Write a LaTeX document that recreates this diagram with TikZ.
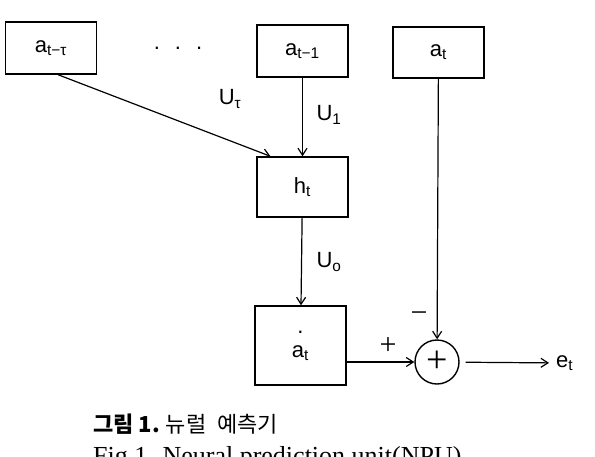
\documentclass[tikz,border=0pt]{standalone}
\usepackage{fontspec}
\usepackage{tikz}
\usetikzlibrary{arrows.meta,positioning,calc}
\setmainfont{Liberation Serif}
\setsansfont{Liberation Sans}
\newfontfamily\cjk{Noto Sans CJK KR}
\newcommand{\ind}[2]{#1\textsubscript{#2}}
\tikzset{
  bloc/.style={rectangle, draw, line width=1.4pt, minimum width=91pt,
               minimum height=#1, inner sep=0pt, font=\sffamily\fontsize{22}{24}\selectfont},
  fleche/.style={-{Straight Barb[length=7pt,width=9pt]}, line width=1.2pt},
  etiq/.style={font=\sffamily\fontsize{22}{24}\selectfont, inner sep=1pt},
}
\begin{document}
\begin{tikzpicture}[x=1pt, y=-1pt]
  \useasboundingbox (0,0) rectangle (595,456);
  % entrees
  \node[bloc=52pt] (aT) at (51,48) {\ind{a}{t−τ}};
  \node[etiq, anchor=base] (pts) at (178,49) {.\hspace{15pt}.\hspace{15pt}.};
  \node[bloc=52pt] (a1) at (302.5,51) {\ind{a}{t−1}};
  \node[bloc=51pt] (at) at (438.5,52.5) {\ind{a}{t}};
  % couche cachee et sortie
  \node[bloc=60pt] (h) at (302.5,187) {\ind{h}{t}};
  \node[bloc=79pt, align=center] (ah) at (300.5,345.5) {.\\[0pt]\ind{a}{t}};
  \node[circle, draw, line width=1.4pt, minimum size=44pt, inner sep=0pt,
        font=\fontsize{38}{38}\selectfont] (som) at (437,362) {+};
  \node[etiq, anchor=west] (e) at (555,363) {\ind{e}{t}};
  \draw[fleche] ([xshift=7pt]aT.south) -- ([xshift=-32pt]h.north);
  \draw[fleche] (a1) -- (h);
  \draw[fleche] (h) -- (ah);
  \draw[fleche] (at) -- (som);
  \draw[fleche] (ah.east |- som) -- (som.west);
  \draw[fleche, shorten <=6pt, shorten >=6pt] (som) -- (e);
  % poids et signes
  \node[etiq] (uT) at (230,99) {\ind{U}{τ}};
  \node[etiq] (u1) at (329,115) {\ind{U}{1}};
  \node[etiq] (uo) at (329,262) {\ind{U}{o}};
  \node[etiq, font=\fontsize{30}{30}\selectfont] (plus) at (388,346) {+};
  \node[etiq, font=\fontsize{30}{30}\selectfont] (moins) at (419,317) {−};
  % legende
  \node[anchor=west, inner sep=0pt, font=\fontsize{22}{24}\selectfont] (leg) at (93,424)
    {\cjk\bfseries 그림 1.\hspace{6pt}\mdseries 뉴럴\hspace{6pt} 예측기};
  \node[anchor=north west, inner sep=0pt, font=\fontsize{26}{28}\selectfont] (fig) at (93,446)
    {Fig.1. Neural prediction unit(NPU)};
\end{tikzpicture}
\end{document}
